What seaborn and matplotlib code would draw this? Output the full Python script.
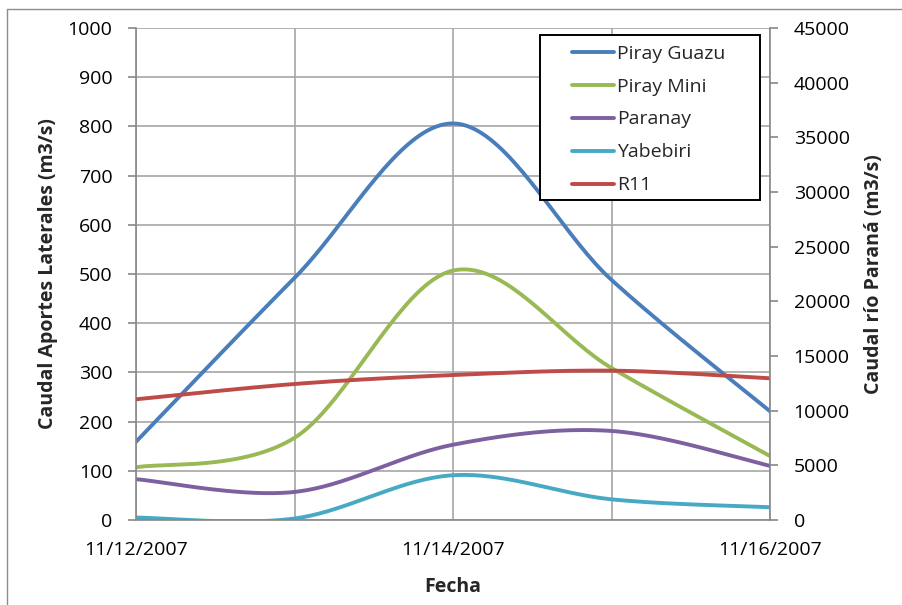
import numpy as np
import pandas as pd
import matplotlib
matplotlib.use("Agg")
import matplotlib.pyplot as plt
import seaborn as sns
from matplotlib.lines import Line2D
from matplotlib.patches import Rectangle

# ---- data (daily values) ----
dates = ["11/12/2007", "11/13/2007", "11/14/2007", "11/15/2007", "11/16/2007"]
piray_guazu = [159, 492, 806, 488, 221]
piray_mini = [107, 167, 507, 309, 130]
paranay = [83, 57, 153, 181, 110]
yabebiri = [5, 3, 91, 42, 26]
r11 = [11040, 12440, 13260, 13660, 12960]   # right axis

series_left = [("Piray Guazu", piray_guazu, "#4A7EBB"),
               ("Piray Mini", piray_mini, "#98B954"),
               ("Paranay", paranay, "#7D60A0"),
               ("Yabebiri", yabebiri, "#46AAC5")]
series_right = [("R11", r11, "#BE4B48")]

x_labels = ["11/12/2007", "", "11/14/2007", "", "11/16/2007"]


def smooth(xs, ys, n=40):
    """Excel-style smoothed line (cubic Bezier, Catmull-Rom control points)."""
    P = np.column_stack([xs, ys]).astype(float)
    P_ext = np.vstack([P[0], P, P[-1]])
    out = []
    t = np.linspace(0, 1, n)[:, None]
    for i in range(len(P) - 1):
        p0, p1, p2, p3 = P_ext[i], P_ext[i + 1], P_ext[i + 2], P_ext[i + 3]
        c1 = p1 + (p2 - p0) / 6.0
        c2 = p2 - (p3 - p1) / 6.0
        seg = ((1 - t) ** 3) * p1 + 3 * ((1 - t) ** 2) * t * c1 + 3 * (1 - t) * t ** 2 * c2 + t ** 3 * p2
        out.append(seg if i == 0 else seg[1:])
    s = np.vstack(out)
    return s[:, 0], s[:, 1]


sns.set_style("white")
plt.rcParams['font.family'] = ['Open Sans', 'DejaVu Sans']

W, H = 902, 605
fig = plt.figure(figsize=(W / 100, H / 100), dpi=100)
ax = fig.add_axes([136 / W, 1 - 520 / H, (770 - 136) / W, (520 - 28) / H])
ax2 = ax.twinx()

LW = 2.8
xpos = np.arange(len(dates))
handles = []
for name, vals, col in series_left:
    sx, sy = smooth(xpos, vals)
    df = pd.DataFrame({"x": sx, "y": sy})
    sns.lineplot(data=df, x="x", y="y", ax=ax, color=col, linewidth=LW,
                 sort=False, estimator=None)
    handles.append(Line2D([], [], color=col, linewidth=LW, label=name))
for name, vals, col in series_right:
    sx, sy = smooth(xpos, vals)
    df = pd.DataFrame({"x": sx, "y": sy})
    sns.lineplot(data=df, x="x", y="y", ax=ax2, color=col, linewidth=LW,
                 sort=False, estimator=None)
    handles.append(Line2D([], [], color=col, linewidth=LW, label=name))

gridc = "#A6A6A6"
ax.set_xlim(0, 4)
ax.set_ylim(0, 1000)
ax2.set_ylim(0, 45000)
ax.set_yticks(np.arange(0, 1001, 100))
ax2.set_yticks(np.arange(0, 45001, 5000))
ax.set_xticks(xpos)
ax.set_xticklabels(x_labels)
ax.grid(True, color=gridc, linewidth=1.2)
ax.set_axisbelow(True)
ax2.grid(False)

FS = 14
for a in (ax, ax2):
    a.spines["top"].set_visible(False)
    for s in ("left", "right", "bottom"):
        a.spines[s].set_color("#888888")
        a.spines[s].set_linewidth(1.2)
    a.tick_params(axis="both", which="major", direction="out", length=6,
                  color="#888888", labelsize=FS, labelcolor="black", width=1.2)
ax.spines["right"].set_visible(False)
ax2.spines["left"].set_visible(False)
ax2.spines["bottom"].set_visible(False)
ax.tick_params(axis="y", pad=11)
ax2.tick_params(axis="y", pad=11)
ax.tick_params(axis="x", pad=9)

ax.set_xlabel("Fecha", fontsize=FS, fontweight="bold", labelpad=13)
ax.set_ylabel("Caudal Aportes Laterales (m3/s)", fontsize=FS, fontweight="bold", labelpad=7)
ax2.set_ylabel("Caudal río Paraná (m3/s)", fontsize=FS, fontweight="bold", labelpad=10)

# legend: frame drawn separately to match Excel's padding
lx0, lx1, ly0, ly1 = 540, 760, 35, 200
tr = fig.transFigure
fig.add_artist(Rectangle((lx0 / W, 1 - ly1 / H), (lx1 - lx0) / W, (ly1 - ly0) / H,
                         transform=tr, facecolor="white", edgecolor="black",
                         linewidth=1.4, zorder=5))
leg = fig.legend(handles=handles, loc="upper left",
                 bbox_to_anchor=(556 / W, 1 - 29 / H), bbox_transform=tr,
                 frameon=False, fontsize=FS, handlelength=2.2,
                 borderpad=0.3, labelspacing=0.77, handletextpad=0.15)
leg.set_zorder(6)

# outer chart border (Excel style)
fig.add_artist(Line2D([7 / W, 7 / W], [0, 1 - 9 / H], transform=tr,
                      color="#8C8C8C", linewidth=1))
fig.add_artist(Line2D([7 / W, 1], [1 - 9 / H, 1 - 9 / H], transform=tr,
                      color="#8C8C8C", linewidth=1))

fig.savefig("out.png", dpi=100)
